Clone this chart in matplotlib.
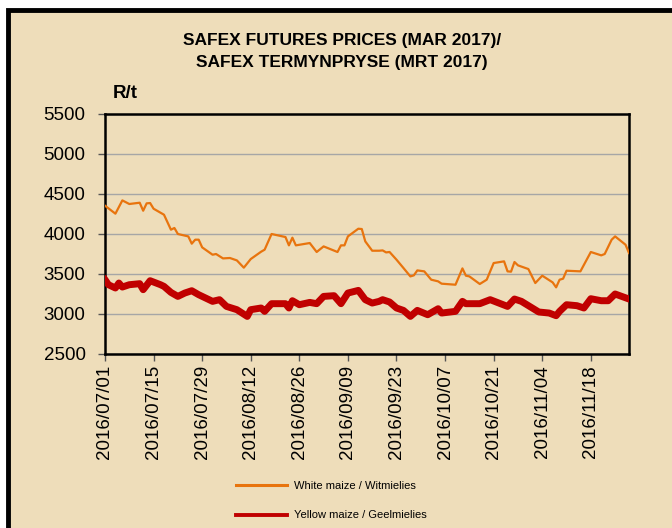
import numpy as np
import pandas as pd
import matplotlib
matplotlib.use("Agg")
import matplotlib.pyplot as plt
import matplotlib.dates as mdates
from matplotlib.patches import Rectangle
from matplotlib.lines import Line2D

# day offsets from 2016/07/01 and prices (R/t)
white_days = [0, 3, 5, 7, 10, 11, 12, 13, 14, 17, 19, 20, 21, 24, 25, 26, 27, 28,
              31, 32, 34, 36, 38, 40, 42, 45, 46, 48, 52, 53, 54, 55, 59, 61, 63,
              67, 68, 69, 70, 73, 74, 75, 77, 79, 80, 81, 82, 84, 86, 88, 89, 90,
              92, 94, 96, 97, 101, 103, 104, 105, 108, 110, 112, 115, 116, 117,
              118, 119, 122, 124, 126, 129, 130, 131, 132, 133, 137, 140, 143,
              144, 146, 147, 150, 151]
white_maize = [4354, 4254, 4420, 4375, 4391, 4291, 4383, 4387, 4316, 4241, 4054,
               4075, 4000, 3970, 3879, 3929, 3929, 3833, 3741, 3750, 3695, 3700,
               3670, 3579, 3687, 3779, 3804, 4000, 3962, 3858, 3954, 3858, 3887,
               3775, 3845, 3775, 3858, 3858, 3970, 4066, 4062, 3908, 3791, 3791,
               3795, 3770, 3775, 3679, 3575, 3470, 3483, 3545, 3533, 3429, 3408,
               3379, 3366, 3570, 3479, 3470, 3375, 3429, 3637, 3658, 3533, 3529,
               3650, 3608, 3562, 3387, 3479, 3395, 3333, 3429, 3441, 3541, 3533,
               3775, 3733, 3750, 3929, 3970, 3866, 3762]

yellow_days = [0, 1, 3, 4, 5, 7, 10, 11, 13, 16, 17, 19, 21, 23, 25, 27, 31, 33,
               35, 38, 41, 42, 45, 46, 48, 52, 53, 54, 56, 59, 61, 63, 66, 68, 70,
               73, 75, 77, 79, 80, 82, 84, 86, 88, 90, 93, 96, 97, 101, 103, 104,
               108, 111, 116, 118, 120, 125, 128, 130, 131, 133, 136, 138, 140,
               143, 145, 147, 151]
yellow_maize = [3429, 3366, 3325, 3387, 3337, 3366, 3379, 3304, 3416, 3366, 3345,
                3270, 3220, 3262, 3291, 3241, 3158, 3179, 3095, 3054, 2970, 3054,
                3075, 3033, 3129, 3129, 3075, 3166, 3116, 3145, 3129, 3220, 3229,
                3129, 3262, 3295, 3179, 3137, 3158, 3179, 3150, 3075, 3045, 2970,
                3045, 2991, 3066, 3012, 3033, 3158, 3129, 3129, 3179, 3095, 3187,
                3158, 3025, 3012, 2979, 3033, 3116, 3104, 3075, 3191, 3166, 3166,
                3250, 3187]

tick_labels = ["2016/07/01", "2016/07/15", "2016/07/29", "2016/08/12",
               "2016/08/26", "2016/09/09", "2016/09/23", "2016/10/07",
               "2016/10/21", "2016/11/04", "2016/11/18"]

start = pd.Timestamp("2016-07-01")
white_dates = start + pd.to_timedelta(white_days, unit="D")
yellow_dates = start + pd.to_timedelta(yellow_days, unit="D")

bg = "#EEDDBA"
fig = plt.figure(figsize=(6.72, 5.28), dpi=100)
fig.patch.set_facecolor("white")
# parchment panel with thick black border
fig.patches.append(Rectangle((8 / 672, -0.05), 1.0, 1 - 10 / 528 + 0.05,
                             transform=fig.transFigure, facecolor=bg,
                             edgecolor="black", linewidth=3.5, zorder=-10))

ax = fig.add_axes([105 / 672, 1 - 354 / 528, 524 / 672, 240 / 528])
ax.set_facecolor(bg)

ax.plot(white_dates, white_maize, color="#E8740E", lw=1.6, zorder=3)
ax.plot(yellow_dates, yellow_maize, color="#C00000", lw=5,
        solid_joinstyle="round", zorder=3)

ax.set_ylim(2500, 5500)
ax.set_yticks(np.arange(2500, 5501, 500))
ax.set_xlim(start, start + pd.Timedelta(days=151))
ax.set_xticks(pd.to_datetime(tick_labels, format="%Y/%m/%d"))
ax.xaxis.set_major_formatter(mdates.DateFormatter("%Y/%m/%d"))
ax.yaxis.grid(True, color="#A6A6A6", lw=1)
ax.set_axisbelow(True)

for s in ax.spines.values():
    s.set_linewidth(1.8)
    s.set_color("black")
ax.tick_params(axis="both", direction="out", length=5, width=1, color="#555555",
               labelsize=13.5, pad=3)
ax.tick_params(axis="y", pad=9)
ax.tick_params(axis="x", labelrotation=90)
for lbl in ax.get_xticklabels() + ax.get_yticklabels():
    lbl.set_family(["Liberation Sans", "DejaVu Sans"])

narrow = ["Liberation Sans Narrow", "Liberation Sans", "DejaVu Sans"]
fig.text(342 / 672, 1 - 40 / 528, "SAFEX FUTURES PRICES (MAR 2017)/",
         ha="center", va="center", fontsize=12.5, fontweight="bold", family=narrow)
fig.text(342 / 672, 1 - 62 / 528, "SAFEX TERMYNPRYSE (MRT 2017)",
         ha="center", va="center", fontsize=12.5, fontweight="bold", family=narrow)
fig.text(113 / 672, 1 - 94 / 528, "R/t", ha="left", va="center",
         fontsize=13.5, fontweight="bold", family=narrow)

handles = [Line2D([], [], color="#E8740E", lw=2.2),
           Line2D([], [], color="#C00000", lw=2.8)]
fig.legend(handles, ["White maize / Witmielies", "Yellow maize / Geelmielies"],
           loc="upper left", bbox_to_anchor=(226 / 672, 1 - 471 / 528),
           frameon=False, prop={"family": narrow, "size": 8},
           handlelength=4.6, labelspacing=1.75, handletextpad=0.6)

fig.savefig("out.png", dpi=100, facecolor=fig.get_facecolor())
